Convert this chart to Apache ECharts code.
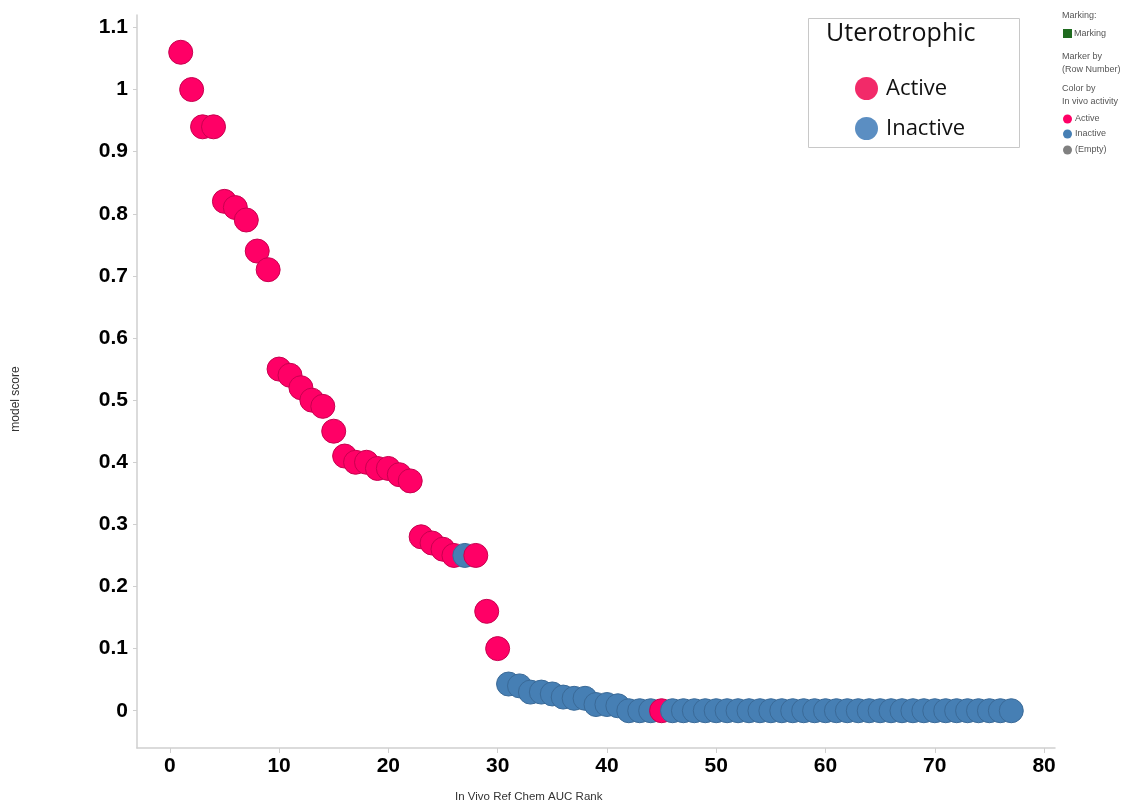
<!DOCTYPE html>
<html>
<head>
<meta charset="utf-8">
<script src="https://cdn.jsdelivr.net/npm/echarts@6/dist/echarts.min.js"></script>
<style>
html,body{margin:0;padding:0;background:#fff;}
#chart{width:1121px;height:804px;}
</style>
</head>
<body>
<div id="chart"></div>
<script>
const ranks = [];
for (let i = 1; i <= 77; i++) ranks.push(i);
const scores = [
  1.06, 1.00, 0.94, 0.94, 0.82, 0.81, 0.79, 0.74, 0.71, 0.55,
  0.54, 0.52, 0.50, 0.49, 0.45, 0.41, 0.40, 0.40, 0.39, 0.39,
  0.38, 0.37, 0.28, 0.27, 0.26, 0.25, 0.25, 0.25, 0.16, 0.10,
  0.043, 0.04, 0.03, 0.03, 0.027, 0.022, 0.02, 0.02, 0.01, 0.01,
  0.008, 0, 0, 0, 0, 0, 0, 0, 0, 0,
  0, 0, 0, 0, 0, 0, 0, 0, 0, 0,
  0, 0, 0, 0, 0, 0, 0, 0, 0, 0,
  0, 0, 0, 0, 0, 0, 0
];
const activity = [];
for (let i = 1; i <= 77; i++) {
  let a = (i <= 30) ? 'Active' : 'Inactive';
  if (i === 27) a = 'Inactive';
  if (i === 45) a = 'Active';
  activity.push(a);
}
const xTicks = [0, 10, 20, 30, 40, 50, 60, 70, 80];
const yTicks = [0, 0.1, 0.2, 0.3, 0.4, 0.5, 0.6, 0.7, 0.8, 0.9, 1.0, 1.1];

const colorMap = { Active: '#FF0066', Inactive: '#467FB4' };
const borderMap = { Active: '#C8004F', Inactive: '#3A6A98' };

const pts = ranks.map((r, i) => ({
  value: [r, scores[i]],
  itemStyle: { color: colorMap[activity[i]], borderColor: borderMap[activity[i]], borderWidth: 1, opacity: 1 }
}));

const chart = echarts.init(document.getElementById('chart'), null, { renderer: 'canvas' });
const lblFont = { fontFamily: 'Liberation Sans, Arial, sans-serif', fontWeight: 'bold', fontSize: 21, color: '#000' };
const smallTxt = (x, y, t) => ({ type: 'text', left: x, top: y, style: { text: t, fontSize: 9, fill: '#555', fontFamily: 'Liberation Sans, Arial, sans-serif' } });

chart.setOption({
  animation: false,
  backgroundColor: '#fff',
  grid: { left: 137, right: 66, top: 15, bottom: 56, containLabel: false },
  xAxis: {
    type: 'value', min: -3, max: 81,
    axisLine: { show: true, onZero: false, lineStyle: { color: '#cfcfcf', width: 1.5 } },
    axisTick: { show: true, length: 5, lineStyle: { color: '#cfcfcf' }, customValues: xTicks },
    axisLabel: Object.assign({ margin: 8, customValues: xTicks }, lblFont),
    splitLine: { show: false }
  },
  yAxis: {
    type: 'value', min: -0.06, max: 1.12,
    axisLine: { show: true, onZero: false, lineStyle: { color: '#cfcfcf', width: 1.5 } },
    axisTick: { show: true, length: 4, lineStyle: { color: '#cfcfcf' }, customValues: yTicks },
    axisLabel: Object.assign({ margin: 9, customValues: yTicks, formatter: v => String(Math.round(v * 10) / 10) }, lblFont),
    splitLine: { show: false }
  },
  legend: {
    orient: 'vertical', left: 850, top: 72, itemWidth: 23, itemHeight: 23, itemGap: 17,
    icon: 'circle',
    textStyle: { fontSize: 22, color: '#111', fontFamily: 'Open Sans, Liberation Sans, sans-serif', padding: [0, 0, 0, 3] },
    data: ['Active', 'Inactive']
  },
  series: [
    { name: 'points', type: 'scatter', symbol: 'circle', symbolSize: 24, data: pts, z: 3, itemStyle: { opacity: 1 } },
    { name: 'Active', type: 'scatter', data: [], itemStyle: { color: '#F22A69', opacity: 1 } },
    { name: 'Inactive', type: 'scatter', data: [], itemStyle: { color: '#5B8EC2', opacity: 1 } }
  ],
  graphic: [
    { type: 'rect', shape: { x: 808.5, y: 18.5, width: 211, height: 129 }, style: { fill: 'none', stroke: '#c8c8c8', lineWidth: 1 }, z: 0 },
    { type: 'text', left: 826, top: 21, style: { text: 'Uterotrophic', fontSize: 25, fill: '#111', fontFamily: 'Open Sans, Liberation Sans, sans-serif' } },
    { type: 'text', rotation: Math.PI / 2, x: 16, y: 399,
      style: { text: 'model score', fontSize: 12, fill: '#333', fontFamily: 'Liberation Sans, Arial, sans-serif', align: 'center', verticalAlign: 'middle' } },
    { type: 'text', left: 455, top: 791, style: { text: 'In Vivo Ref Chem AUC Rank', fontSize: 11.5, fill: '#333', fontFamily: 'Liberation Sans, Arial, sans-serif' } },
    smallTxt(1062, 11, 'Marking:'),
    { type: 'rect', shape: { x: 1063, y: 29, width: 9, height: 9 }, style: { fill: '#1f6b1f' } },
    smallTxt(1074, 29, 'Marking'),
    smallTxt(1062, 52, 'Marker by'),
    smallTxt(1062, 65, '(Row Number)'),
    smallTxt(1062, 84, 'Color by'),
    smallTxt(1062, 97, 'In vivo activity'),
    { type: 'circle', shape: { cx: 1067.5, cy: 119, r: 4.5 }, style: { fill: '#FF0066' } },
    smallTxt(1075, 114, 'Active'),
    { type: 'circle', shape: { cx: 1067.5, cy: 134, r: 4.5 }, style: { fill: '#467FB4' } },
    smallTxt(1075, 129, 'Inactive'),
    { type: 'circle', shape: { cx: 1067.5, cy: 150, r: 4.5 }, style: { fill: '#808080' } },
    smallTxt(1075, 145, '(Empty)')
  ]
});
</script>
</body>
</html>
